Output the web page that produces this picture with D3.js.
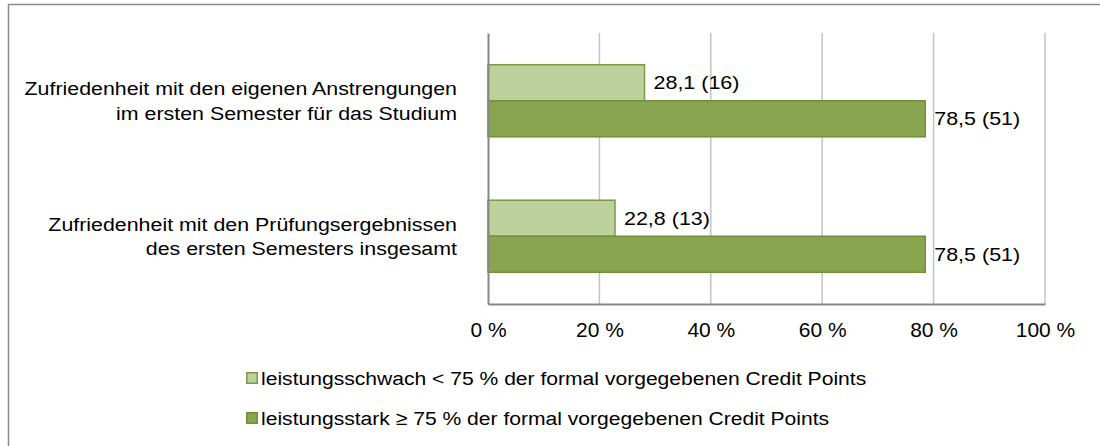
<!DOCTYPE html>
<html>
<head>
<meta charset="utf-8">
<script src="https://cdn.jsdelivr.net/npm/d3@7"></script>
<style>
  body { margin: 0; background: #fff; }
  svg { display: block; font-family: "Liberation Sans", Arial, sans-serif; }
</style>
</head>
<body>
<svg width="1100" height="446"></svg>
<script>
var categories = [
    ["Zufriedenheit mit den eigenen Anstrengungen", "im ersten Semester für das Studium"],
    ["Zufriedenheit mit den Prüfungsergebnissen", "des ersten Semesters insgesamt"]
];
var seriesNames = [
    "leistungsschwach < 75 % der formal vorgegebenen Credit Points",
    "leistungsstark \u2265 75 % der formal vorgegebenen Credit Points"
];
var schwachValues = [28.1, 22.8];
var schwachCounts = [16, 13];
var starkValues = [78.5, 78.5];
var starkCounts = [51, 51];
var xTicks = [0, 20, 40, 60, 80, 100];

var fills = ["#bcd19b", "#89a54f"];
var strokes = ["#7a9a45", "#71903a"];

var svg = d3.select("svg");
var margin = {left: 488, right: 55, top: 33, bottom: 142};
var w = 1100 - margin.left - margin.right;
var h = 446 - margin.top - margin.bottom;

// chart frame
svg.append("rect")
    .attr("x", 8.5).attr("y", 4.5)
    .attr("width", 1200).attr("height", 600)
    .attr("fill", "none")
    .attr("stroke", "#8c8c8c")
    .attr("stroke-width", 1.5);

var g = svg.append("g").attr("transform", "translate(" + margin.left + "," + margin.top + ")");

var x = d3.scaleLinear().domain([0, 100]).range([0, w]);
var y = d3.scaleBand().domain(d3.range(categories.length)).range([0, h]);
var ys = d3.scaleBand().domain([0, 1]).range([0, y.bandwidth()]).paddingInner(0).paddingOuter(0.88);

// gridlines
g.selectAll(".grid").data(xTicks.slice(1))
    .enter().append("line")
    .attr("class", "grid")
    .attr("x1", function(d) { return x(d); })
    .attr("x2", function(d) { return x(d); })
    .attr("y1", 0).attr("y2", h)
    .attr("stroke", "#c4c4c4")
    .attr("stroke-width", 1.5);

var rows = [];
for (var i = 0; i < categories.length; i++) {
    rows.push({cat: i, s: 0, v: schwachValues[i], n: schwachCounts[i]});
    rows.push({cat: i, s: 1, v: starkValues[i], n: starkCounts[i]});
}

g.selectAll(".bar").data(rows)
    .enter().append("rect")
    .attr("class", "bar")
    .attr("x", x(0))
    .attr("y", function(d) { return y(d.cat) + ys(d.s); })
    .attr("width", function(d) { return x(d.v) - x(0); })
    .attr("height", ys.bandwidth())
    .attr("fill", function(d) { return fills[d.s]; })
    .attr("stroke", function(d) { return strokes[d.s]; })
    .attr("stroke-width", 1.5);

// text in the original is a bit wider than Liberation Sans, so stretch it
g.selectAll(".val").data(rows)
    .enter().append("text")
    .attr("class", "val")
    .attr("transform", function(d) {
        return "translate(" + (x(d.v) + 9) + "," + (y(d.cat) + ys(d.s) + ys.bandwidth() / 2) + ") scale(1.13,1)";
    })
    .attr("dy", "0.35em")
    .attr("font-size", 19)
    .attr("fill", "#000")
    .text(function(d) { return d3.format(".1f")(d.v).replace(".", ",") + " (" + d.n + ")"; });

// axes
var xAxis = g.append("g")
    .attr("transform", "translate(0," + h + ")")
    .call(d3.axisBottom(x).tickValues(xTicks).tickSize(0).tickPadding(19)
        .tickFormat(function(d) { return d + " %"; }));
xAxis.select(".domain").attr("stroke", "#878787").attr("stroke-width", 2);
xAxis.selectAll("text").attr("font-size", 20).attr("fill", "#000")
    .attr("font-family", "\"Liberation Sans\", Arial, sans-serif")
    .attr("transform", "scale(1.05,1)");

var yAxis = g.append("g")
    .call(d3.axisLeft(y).tickSize(0).tickFormat(""));
yAxis.select(".domain").attr("stroke", "#878787").attr("stroke-width", 2);

// category labels
var cl = g.selectAll(".cat").data(categories)
    .enter().append("text")
    .attr("class", "cat")
    .attr("text-anchor", "end")
    .attr("font-size", 19)
    .attr("fill", "#000")
    .attr("transform", function(d, i) {
        return "translate(-31," + (y(i) + y.bandwidth() / 2) + ") scale(1.125,1)";
    });
cl.selectAll("tspan").data(function(d) { return d; })
    .enter().append("tspan")
    .attr("x", 0)
    .attr("dy", function(d, i) { return i === 0 ? "-0.3em" : "1.3em"; })
    .text(function(d) { return d; });

// legend
var legend = svg.append("g").attr("transform", "translate(246,378)");
var li = legend.selectAll(".li").data(seriesNames)
    .enter().append("g")
    .attr("class", "li")
    .attr("transform", function(d, i) { return "translate(0," + (i * 40) + ")"; });
li.append("rect")
    .attr("x", 0.75).attr("y", -5.25)
    .attr("width", 10.5).attr("height", 10.5)
    .attr("fill", function(d, i) { return fills[i]; })
    .attr("stroke", function(d, i) { return strokes[i]; })
    .attr("stroke-width", 1.5);
li.append("text")
    .attr("transform", "translate(15,0) scale(1.11,1)")
    .attr("dy", "0.35em")
    .attr("font-size", 19)
    .attr("fill", "#000")
    .text(function(d) { return d; });
</script>
</body>
</html>
